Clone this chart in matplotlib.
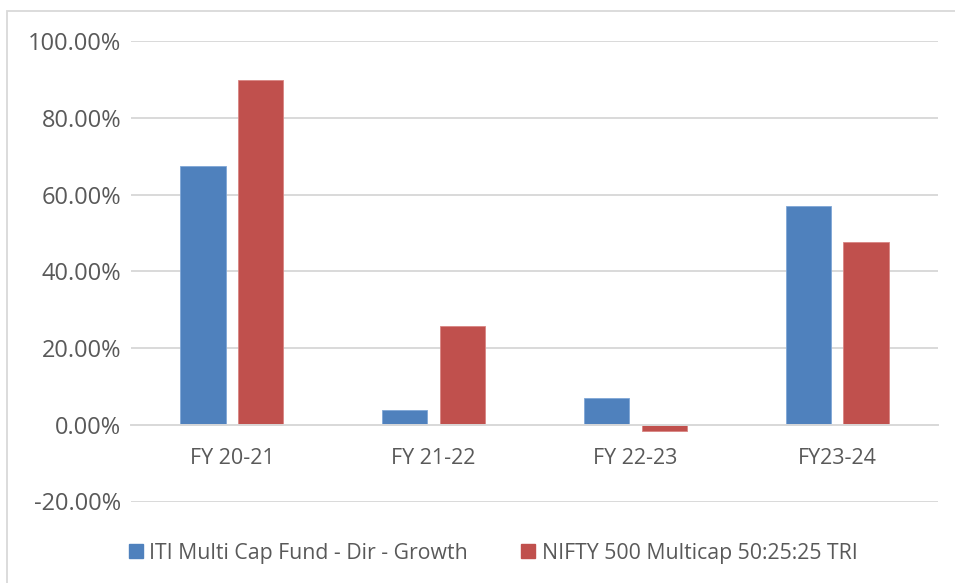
import matplotlib.pyplot as plt
from matplotlib.patches import Patch, Rectangle
from matplotlib.ticker import FuncFormatter
import numpy as np

# 数据
years = ['FY 20-21', 'FY 21-22', 'FY 22-23', 'FY23-24']
fund_name = 'ITI Multi Cap Fund - Dir - Growth'
index_name = 'NIFTY 500 Multicap 50:25:25 TRI'
fund_returns = [67.5, 3.8, 6.9, 57.1]
index_returns = [89.9, 25.8, -1.6, 47.5]
y_ticks = [-20, 0, 20, 40, 60, 80, 100]

blue = '#4F81BD'
red = '#C0504D'
grid_c = '#D9D9D9'
text_c = '#595959'

plt.rcParams['font.family'] = ['Open Sans', 'DejaVu Sans']

fig = plt.figure(figsize=(9.55, 5.83), dpi=100)
ax = fig.add_axes([131 / 955, 1 - 501.5 / 583, (938 - 131) / 955, (501.5 - 41) / 583])

x = np.arange(len(years))
w = 0.225
off = 0.143
ax.bar(x - off, fund_returns, w, color=blue, edgecolor='#7FA6D6', linewidth=0.6, zorder=3)
ax.bar(x + off, index_returns, w, color=red, edgecolor='#D88583', linewidth=0.6, zorder=3)

ax.set_xlim(-0.5, len(years) - 0.5)
ax.set_ylim(-20, 100)
ax.set_yticks(y_ticks)
ax.yaxis.set_major_formatter(FuncFormatter(lambda v, p: f'{v:.2f}%'))
ax.set_xticks(x)
ax.set_xticklabels(years)

# 网格线
ax.yaxis.grid(True, color=grid_c, linewidth=1.4, zorder=0)
ax.set_axisbelow(True)
for s in ['left', 'right', 'top']:
    ax.spines[s].set_visible(False)
# 分类轴放在 0 处
ax.spines['bottom'].set_position(('data', 0))
ax.spines['bottom'].set_color(grid_c)
ax.spines['bottom'].set_linewidth(1.4)
ax.spines['bottom'].set_zorder(4)
ax.tick_params(axis='both', length=0, labelcolor=text_c)
ax.tick_params(axis='y', pad=7, labelsize=17)
ax.tick_params(axis='x', pad=17, labelsize=15.5)

# 图例
handles = [Patch(color=blue, label=fund_name), Patch(color=red, label=index_name)]
leg = fig.legend(handles=handles, loc='center left', bbox_to_anchor=(129 / 955, 1 - 553 / 583),
                 ncol=2, frameon=False, fontsize=15.3, handlelength=0.66, handleheight=0.66,
                 handletextpad=0.3, columnspacing=2.5, borderpad=0, borderaxespad=0)
for t in leg.get_texts():
    t.set_color(text_c)

# 外框
fig.patches.append(Rectangle((7 / 955, -0.1), 1.2, 1.1 - 11 / 583, transform=fig.transFigure,
                             fill=False, edgecolor=grid_c, linewidth=1.3))

fig.savefig('out.png', dpi=100)
